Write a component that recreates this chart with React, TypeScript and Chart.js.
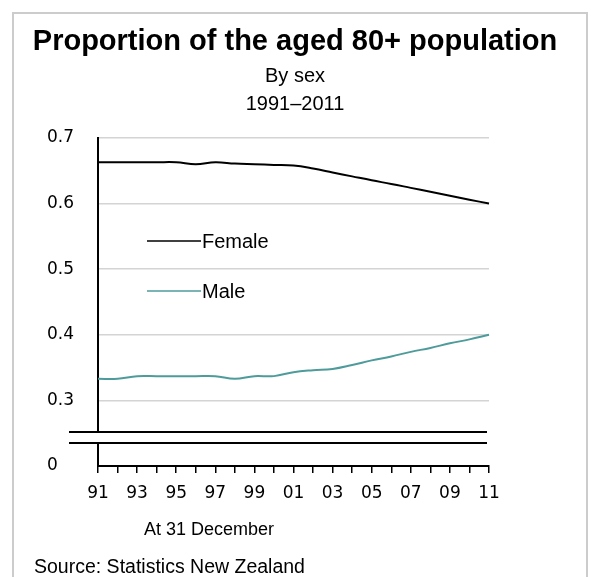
import React, { useEffect, useRef } from "react";
import { Chart, registerables } from "chart.js";

Chart.register(...registerables);

const years = ["91","92","93","94","95","96","97","98","99","00","01","02","03","04","05","06","07","08","09","10","11"];
const female = [0.663,0.663,0.663,0.663,0.663,0.660,0.663,0.661,0.660,0.659,0.658,0.6535,0.6475,0.6415,0.6355,0.630,0.624,0.618,0.612,0.606,0.600];
const male = [0.333,0.333,0.337,0.337,0.337,0.337,0.337,0.333,0.337,0.337,0.343,0.346,0.348,0.354,0.361,0.367,0.374,0.380,0.387,0.393,0.400];
const yTickValues = [0.2, 0.3, 0.4, 0.5, 0.6, 0.7];
const yTickLabels = ["0", "0.3", "0.4", "0.5", "0.6", "0.7"];
const seriesNames = ["Female", "Male"];
const title = "Proportion of the aged 80+ population";
const subtitle = ["By sex", "1991\u20132011"];
const xAxisTitle = "At 31 December";
const source = "Source: Statistics New Zealand";

const FONT = "'Liberation Sans', Arial, sans-serif";
const TICK_FONT = "'DejaVu Sans', sans-serif";
const MALE_COLOR = "#4e9b9b";

const decorPlugin = {
  id: "decor",
  afterDraw(chart: any) {
    const ctx = chart.ctx;
    const y = chart.scales.y;
    const area = chart.chartArea;
    ctx.save();
    // outer frame
    ctx.strokeStyle = "#cccccc";
    ctx.lineWidth = 2;
    ctx.strokeRect(13, 13, 574, 600);

    // axis break
    const yHi = Math.round(y.getPixelForValue(0.2518));
    const yLo = Math.round(y.getPixelForValue(0.235));
    ctx.fillStyle = "#ffffff";
    ctx.fillRect(area.left - 3, yHi + 1, 6, yLo - yHi - 2);
    ctx.strokeStyle = "#000000";
    ctx.lineWidth = 2;
    ctx.beginPath();
    ctx.moveTo(69, yHi);
    ctx.lineTo(area.right - 2, yHi);
    ctx.moveTo(69, yLo);
    ctx.lineTo(area.right - 2, yLo);
    ctx.stroke();

    // legend
    const legY = [241, 291];
    chart.data.datasets.forEach((ds: any, i: number) => {
      ctx.strokeStyle = ds.borderColor;
      ctx.lineWidth = 1.5;
      ctx.beginPath();
      ctx.moveTo(147, legY[i]);
      ctx.lineTo(201, legY[i]);
      ctx.stroke();
      ctx.fillStyle = "#000";
      ctx.font = `20px ${FONT}`;
      ctx.textAlign = "left";
      ctx.textBaseline = "middle";
      ctx.fillText(ds.label, 202, legY[i] + 1);
    });

    // titles
    ctx.fillStyle = "#000";
    ctx.textAlign = "center";
    ctx.textBaseline = "alphabetic";
    ctx.font = `bold 29px ${FONT}`;
    ctx.fillText(title, 295, 50);
    ctx.font = `20px ${FONT}`;
    ctx.fillText(subtitle[0], 295, 82);
    ctx.fillText(subtitle[1], 295, 110);

    ctx.font = `18px ${FONT}`;
    ctx.fillText(xAxisTitle, 209, 535);
    ctx.font = `19.5px ${FONT}`;
    ctx.textAlign = "left";
    ctx.fillText(source, 34, 573);
    ctx.restore();
  },
};

export default function App() {
  const ref = useRef<HTMLCanvasElement>(null);
  useEffect(() => {
    document.body.style.margin = "0";
    const chart = new Chart(ref.current!, {
      type: "line",
      data: {
        labels: years,
        datasets: [
          { label: seriesNames[0], data: female, borderColor: "#000000", borderWidth: 2, pointRadius: 0, tension: 0.4 },
          { label: seriesNames[1], data: male, borderColor: MALE_COLOR, borderWidth: 2, pointRadius: 0, tension: 0.4 },
        ],
      },
      options: {
        animation: false,
        responsive: false,
        layout: { padding: { left: 47, top: 138, right: 102, bottom: 0 } },
        plugins: { legend: { display: false }, title: { display: false }, tooltip: { enabled: false } },
        scales: {
          x: {
            type: "category",
            offset: false,
            afterFit: (s: any) => { s.height = 111; },
            grid: { drawOnChartArea: false, drawTicks: true, tickLength: 7, color: "#000", lineWidth: 1.5 },
            border: { display: true, color: "#000", width: 2 },
            ticks: {
              autoSkip: false,
              maxRotation: 0,
              padding: 10,
              color: "#000",
              font: { family: TICK_FONT, size: 17 },
              callback: (_v: any, i: number) => (i % 2 === 0 ? years[i] : ""),
            },
          },
          y: {
            type: "linear",
            min: 0.2,
            max: 0.7,
            afterFit: (s: any) => { s.width = 51; },
            afterBuildTicks: (s: any) => { s.ticks = yTickValues.map((v) => ({ value: v })); },
            grid: {
              drawTicks: false,
              color: (c: any) => (c.tick && Math.abs(c.tick.value - 0.2) < 1e-6 ? "rgba(0,0,0,0)" : "#d4d4d4"),
              lineWidth: 1.5,
            },
            border: { display: true, color: "#000", width: 2 },
            ticks: {
              padding: 23,
              crossAlign: "far",
              color: "#000",
              font: { family: TICK_FONT, size: 17 },
              callback: (v: any) => {
                const idx = yTickValues.findIndex((t) => Math.abs(t - v) < 1e-6);
                return idx >= 0 ? yTickLabels[idx] : "";
              },
            },
          },
        },
      },
      plugins: [decorPlugin],
    });
    return () => chart.destroy();
  }, []);
  return <canvas ref={ref} width={591} height={577} style={{ display: "block" }} />;
}
